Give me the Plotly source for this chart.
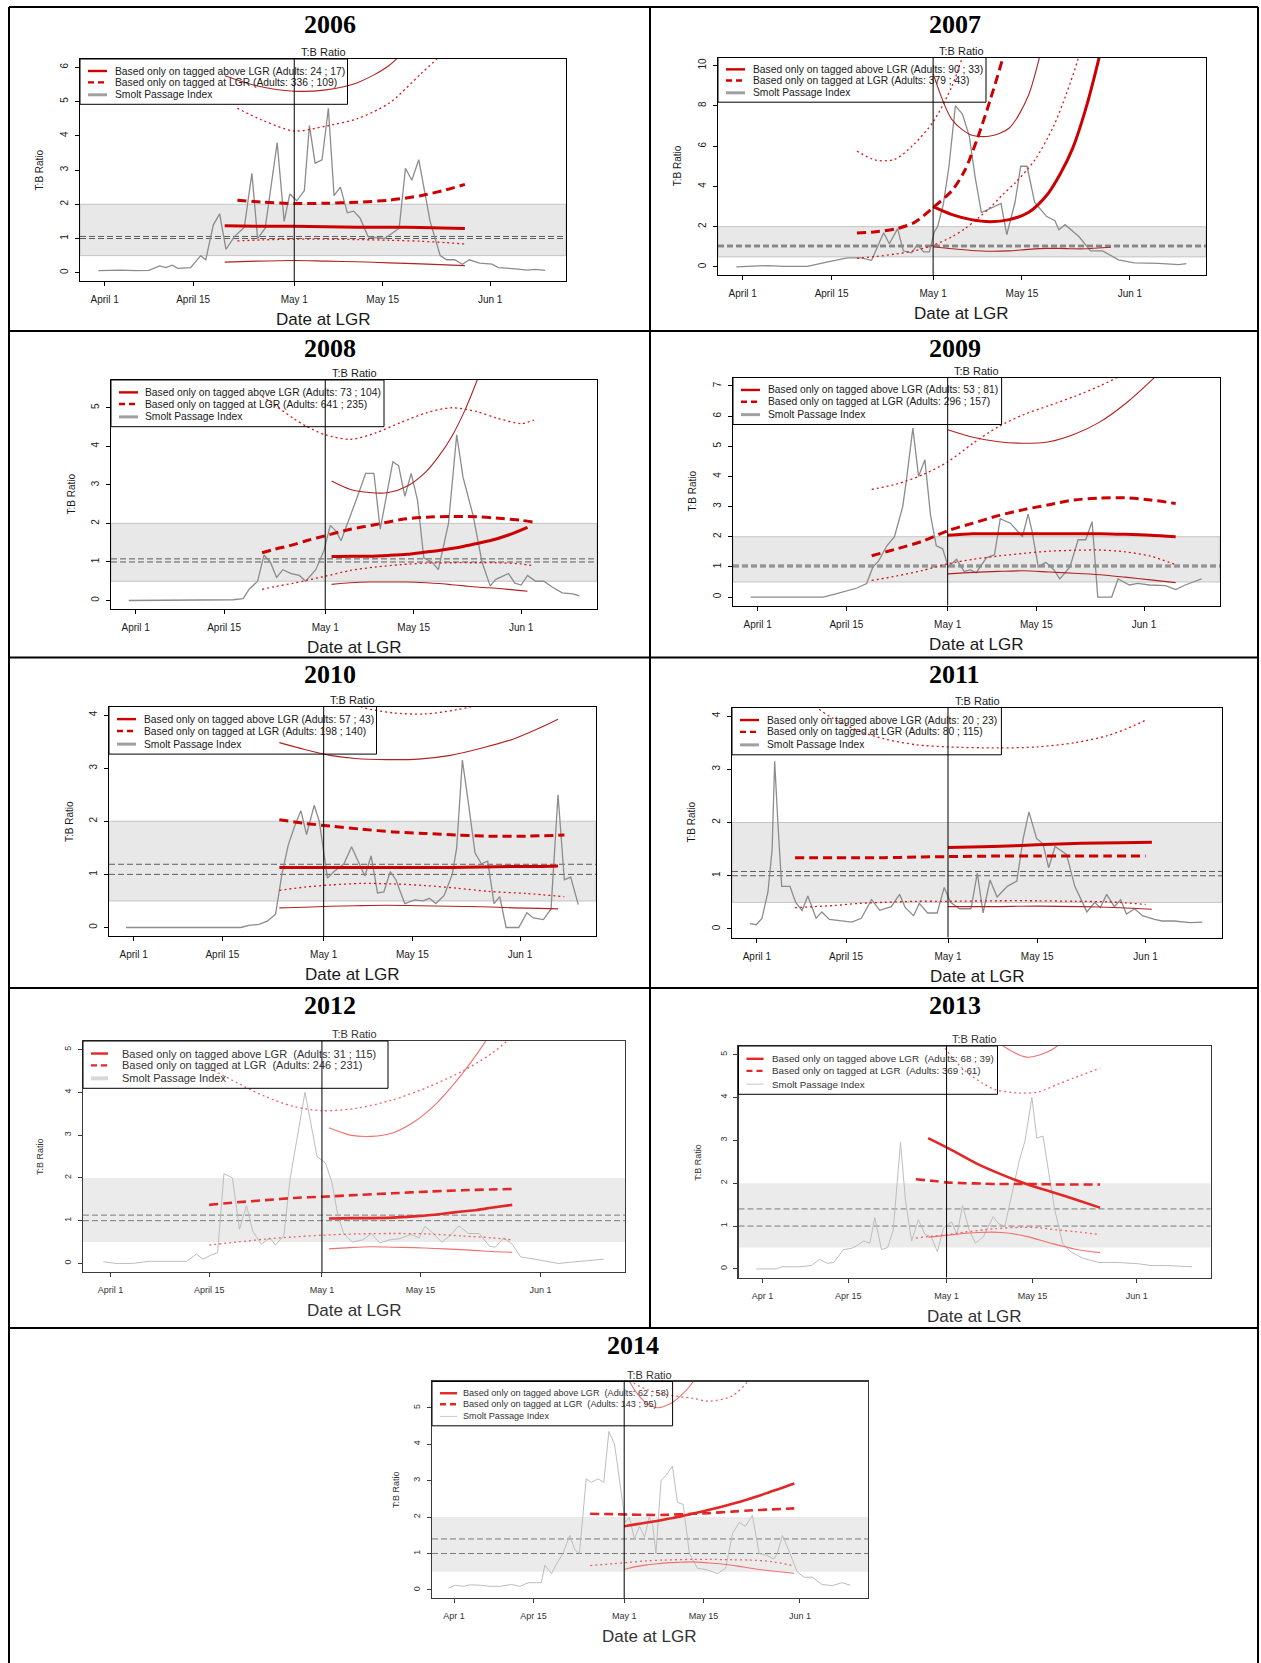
import plotly.graph_objects as go

W, H = 1261, 1663

# ============================== DATA ==============================
YEARS = [2006, 2007, 2008, 2009, 2010, 2011, 2012, 2013, 2014]
TICK_DAYS = [0, 14, 30, 44, 61]                      # days after April 1
TICK_TEXT_LONG = ["April 1", "April 15", "May 1", "May 15", "Jun 1"]
TICK_TEXT_SHORT = ["Apr 1", "Apr 15", "May 1", "May 15", "Jun 1"]
MAY1_DAY = 30
XLIM = (-1.05, 70.15)
BAND_LOW, BAND_HIGH = 0.5, 2.0
REF_LOW = 1.0
REF_HIGH = [1.06, 1.08, 1.08, 1.06, 1.19, 1.08, 1.13, 1.40, 1.40]
YMAX = [6, 10, 5.5, 7, 4, 4, 5, 5, 5.5]
YTICK_STEP = [1, 2, 1, 1, 1, 1, 1, 1, 1]
YTICK_MAX = [6, 10, 5, 7, 4, 4, 5, 5, 5]
ADULTS_ABOVE = ["24 ; 17", "90 ; 33", "73 ; 104", "53 ; 81", "57 ; 43", "20 ; 23", "31 ; 115", "68 ; 39", "62 ; 58"]
ADULTS_AT = ["336 ; 109", "379 ; 43", "641 ; 235", "296 ; 157", "198 ; 140", "80 ; 115", "246 ; 231", "369 ; 61", "143 ; 95"]

# ---- 2006
SMOLT_2006 = [(-1, 0.06), (2.5, 0.08), (5, 0.06), (7, 0.07), (8.7, 0.2), (9.7, 0.15), (10.7, 0.22), (11.6, 0.13),
              (13.6, 0.15), (15.2, 0.5), (16, 0.38), (17.2, 1.4), (18.2, 1.72), (19.2, 0.68), (20.5, 1.05), (22.1, 1.33),
              (23.3, 2.9), (23.7, 2.0), (24.2, 1.0), (25.4, 1.3), (27.3, 3.8), (28.4, 1.5), (29.3, 2.3), (30.4, 2.1),
              (31.6, 2.4), (32.4, 4.3), (33.3, 3.2), (34.4, 3.3), (35.4, 4.8), (36.3, 2.25), (37.3, 2.5), (38.4, 1.75),
              (39.4, 1.8), (40.4, 1.6), (41.7, 1.05), (44.3, 1.0), (46.6, 1.3), (47.6, 3.05), (48.6, 2.7), (49.7, 3.3),
              (51.5, 1.5), (53.1, 0.5), (54.1, 0.38), (55.4, 0.38), (56.6, 0.25), (57.7, 0.38), (59.3, 0.28),
              (61.3, 0.25), (62.3, 0.15), (64.6, 0.12), (66.9, 0.08), (68.2, 0.1), (69.7, 0.07)]
ABOVE_DAY_2006 = [19, 24, 30, 35, 40, 45, 50, 57]
ABOVE_2006 = [1.37, 1.36, 1.36, 1.34, 1.33, 1.33, 1.32, 1.29]
ABOVE_LO_2006 = [0.31, 0.34, 0.36, 0.34, 0.32, 0.29, 0.26, 0.21]
ABOVE_HI_2006 = [5.75, 5.46, 5.3, 5.34, 5.55, 6.05, 7.0, 8.6]
AT_DAY_2006 = [21, 25, 30, 35, 40, 45, 50, 54, 57]
AT_2006 = [2.12, 2.06, 2.02, 2.03, 2.06, 2.12, 2.25, 2.42, 2.58]
AT_LO_2006 = [0.93, 0.96, 0.98, 0.98, 0.97, 0.95, 0.92, 0.88, 0.84]
AT_HI_2006 = [4.8, 4.45, 4.14, 4.28, 4.5, 4.95, 5.8, 6.5, 7.1]

# ---- 2007
SMOLT_2007 = [(-1, 0.0), (2.7, 0.03), (4, 0.07), (6.5, 0.03), (10.2, 0.03), (13.4, 0.25), (16.5, 0.45), (18.7, 0.45),
              (20.3, 0.33), (22.2, 1.7), (23.1, 1.15), (24.4, 1.9), (25.3, 0.8), (26.6, 0.7), (27.5, 1.1), (28.5, 0.75),
              (29.4, 0.75), (30.2, 1.75), (30.7, 2.0), (31.6, 3.1), (32.5, 5.0), (33.5, 8.0), (34.6, 7.6), (35.7, 6.5),
              (36.6, 4.5), (37.6, 2.7), (39.1, 2.9), (40.7, 3.15), (41.6, 1.6), (42.9, 3.2), (43.8, 5.0), (44.8, 5.0),
              (46, 3.2), (47.9, 2.5), (49.2, 2.3), (49.8, 1.85), (50.8, 2.1), (53, 1.5), (54.8, 0.8), (56.7, 0.8),
              (59.2, 0.35), (61.7, 0.2), (65.5, 0.18), (68.7, 0.12), (69.9, 0.17)]
ABOVE_DAY_2007 = [30, 33, 36, 39, 42, 45, 48, 50, 52, 54, 56, 58]
ABOVE_2007 = [3.0, 2.6, 2.35, 2.25, 2.35, 2.7, 3.6, 4.6, 5.9, 7.8, 10.2, 13.0]
ABOVE_LO_2007 = [1.0, 0.9, 0.82, 0.78, 0.8, 0.87, 0.92, 0.92, 0.9, 0.9, 0.94, 0.98]
ABOVE_HI_2007 = [9.6, 7.3, 6.55, 6.5, 6.9, 8.5, 12.0, 14.5, 17.0, 20.0, 23.0, 26.0]
AT_DAY_2007 = [18, 21, 24, 27, 30, 33, 35, 37, 39, 41, 43, 46, 49, 51, 53, 57]
AT_2007 = [1.68, 1.75, 1.88, 2.2, 2.95, 3.8, 4.8, 6.4, 8.3, 10.4, 13.0, 17.0, 22.0, 26.0, 30.0, 40.0]
AT_LO_2007 = [0.43, 0.52, 0.64, 0.8, 1.08, 1.5, 1.9, 2.4, 2.95, 3.6, 4.2, 5.3, 7.0, 8.6, 10.5, 16.0]
AT_HI_2007 = [5.75, 5.3, 5.35, 6.1, 7.2, 9.0, 10.8, 13.0, 16.0, 20.0, 25.0, 31.0, 40.0, 50.0, 60.0, 80.0]

# ---- 2008
SMOLT_2008 = [(-1.1, 0), (15.4, 0.02), (17, 0.05), (18, 0.3), (19.3, 0.5), (20.3, 1.18), (21.3, 1.0), (22.3, 0.6),
              (23.3, 0.8), (24.6, 0.7), (25.9, 0.65), (26.9, 0.5), (28.5, 0.8), (29.8, 1.3), (30.8, 1.95), (31.7, 1.8),
              (32.5, 1.55), (33.8, 2.1), (35.1, 2.7), (36.4, 3.3), (37.7, 3.3), (38.7, 1.85), (40.7, 3.6), (41.6, 3.5),
              (42.6, 2.7), (43.6, 3.3), (44.6, 2.6), (45.6, 1.1), (46.9, 1.0), (47.9, 0.8), (49.5, 2.0), (50.8, 4.3),
              (51.8, 3.2), (53.4, 2.2), (54.8, 1.0), (56.1, 0.38), (57, 0.55), (59, 0.7), (60, 0.45), (61, 0.4),
              (62, 0.65), (63.3, 0.5), (64.6, 0.5), (65.9, 0.35), (67.5, 0.2), (69.2, 0.17), (70.2, 0.12)]
ABOVE_DAY_2008 = [31, 34, 37, 40, 43, 46, 48, 50, 52, 54, 56, 59, 62]
ABOVE_2008 = [1.14, 1.15, 1.15, 1.17, 1.2, 1.26, 1.3, 1.35, 1.41, 1.48, 1.55, 1.7, 1.9]
ABOVE_LO_2008 = [0.42, 0.46, 0.48, 0.48, 0.48, 0.46, 0.44, 0.41, 0.38, 0.35, 0.33, 0.29, 0.24]
ABOVE_HI_2008 = [3.1, 2.88, 2.8, 2.8, 2.97, 3.35, 3.75, 4.25, 4.9, 5.7, 6.6, 8.0, 9.6]
AT_DAY_2008 = [20, 22, 25, 27, 30, 34, 38, 42, 46, 50, 54, 57, 61, 63]
AT_2008 = [1.24, 1.33, 1.45, 1.55, 1.68, 1.85, 1.97, 2.1, 2.16, 2.18, 2.17, 2.14, 2.08, 2.03]
AT_LO_2008 = [0.29, 0.36, 0.45, 0.52, 0.63, 0.78, 0.87, 0.93, 0.97, 0.98, 0.98, 0.98, 0.95, 0.9]
AT_HI_2008 = [5.3, 5.07, 4.72, 4.52, 4.3, 4.18, 4.35, 4.62, 4.87, 5.0, 4.9, 4.74, 4.59, 4.68]

# ---- 2009
SMOLT_2009 = [(-1.1, 0), (10.3, 0), (12.2, 0.1), (14.1, 0.2), (15.7, 0.3), (17.2, 0.45), (18.2, 1.0), (19.1, 1.2),
              (20.4, 1.7), (21.6, 2.0), (22.9, 3.0), (23.5, 3.9), (24.5, 5.6), (25.4, 4.0), (26.4, 4.55), (27.3, 2.7),
              (28.2, 1.7), (29.2, 1.6), (30.1, 1.0), (31.4, 1.25), (32.6, 0.85), (33.6, 0.9), (34.5, 0.8), (36.1, 1.3),
              (37.4, 1.4), (38.3, 2.6), (39.9, 2.45), (41.8, 2.0), (42.7, 2.75), (43.3, 2.2), (44.3, 1.0), (45.5, 1.15),
              (46.8, 0.9), (47.7, 0.6), (49.3, 1.0), (50.6, 1.9), (51.8, 1.9), (52.8, 2.5), (53.7, 0.0), (55.9, 0.0),
              (56.9, 0.6), (58.7, 0.4), (60, 0.45), (61.9, 0.4), (64.4, 0.38), (66, 0.25), (67.5, 0.4), (70.1, 0.6)]
ABOVE_DAY_2009 = [30, 34, 38, 42, 46, 50, 54, 58, 62, 66]
ABOVE_2009 = [2.05, 2.1, 2.1, 2.1, 2.1, 2.1, 2.1, 2.08, 2.05, 2.0]
ABOVE_LO_2009 = [0.77, 0.82, 0.85, 0.87, 0.83, 0.79, 0.74, 0.66, 0.57, 0.48]
ABOVE_HI_2009 = [5.55, 5.3, 5.15, 5.1, 5.15, 5.4, 5.8, 6.4, 7.15, 8.0]
AT_DAY_2009 = [18, 22, 26, 30, 34, 38, 42, 46, 50, 54, 58, 62, 66]
AT_2009 = [1.37, 1.6, 1.85, 2.2, 2.45, 2.7, 2.9, 3.06, 3.22, 3.28, 3.29, 3.22, 3.1]
AT_LO_2009 = [0.55, 0.7, 0.88, 1.1, 1.25, 1.36, 1.45, 1.52, 1.55, 1.56, 1.5, 1.36, 1.07]
AT_HI_2009 = [3.57, 3.75, 4.05, 4.48, 5.1, 5.65, 6.05, 6.35, 6.65, 7.0, 7.4, 7.8, 8.2]

# ---- 2010
SMOLT_2010 = [(-1.2, 0), (16.9, 0), (18.2, 0.04), (19.8, 0.06), (21.1, 0.12), (22.4, 0.25), (23.4, 1.0), (24.4, 1.55),
              (25.4, 1.9), (26.4, 2.2), (27.3, 1.75), (28.5, 2.3), (29.3, 2.0), (30.6, 0.93), (31.6, 1.05), (33.2, 1.2),
              (34.4, 1.52), (35.2, 1.3), (36.5, 0.97), (37.5, 1.35), (38.5, 0.65), (39.5, 0.67), (40.5, 1.05),
              (41.4, 0.9), (42.8, 0.45), (44.4, 0.52), (45.7, 0.5), (46.7, 0.55), (47.7, 0.45), (49, 0.6), (50.3, 1.0),
              (51, 1.5), (51.9, 3.15), (52.9, 2.3), (53.9, 1.4), (54.9, 1.2), (55.9, 1.25), (56.9, 0.45), (57.8, 0.58),
              (58.8, 0.0), (60.8, 0.0), (62.1, 0.28), (63.1, 0.18), (64.7, 0.15), (65.9, 0.35), (67, 2.5), (68, 0.9),
              (69, 0.95), (70.2, 0.43)]
ABOVE_DAY_2010 = [23, 27, 31, 35, 40, 45, 50, 55, 60, 64, 67]
ABOVE_2010 = [1.13, 1.13, 1.13, 1.13, 1.13, 1.13, 1.13, 1.14, 1.15, 1.15, 1.16]
ABOVE_LO_2010 = [0.37, 0.38, 0.4, 0.41, 0.42, 0.41, 0.4, 0.39, 0.37, 0.36, 0.35]
ABOVE_HI_2010 = [3.48, 3.35, 3.24, 3.18, 3.16, 3.17, 3.24, 3.38, 3.55, 3.75, 3.92]
AT_DAY_2010 = [23, 27, 31, 36, 41, 46, 51, 56, 62, 68]
AT_2010 = [2.03, 1.96, 1.91, 1.85, 1.8, 1.77, 1.74, 1.72, 1.72, 1.74]
AT_LO_2010 = [0.7, 0.76, 0.8, 0.83, 0.82, 0.79, 0.74, 0.68, 0.64, 0.58]
AT_HI_2010 = [5.5, 4.9, 4.45, 4.15, 4.04, 4.02, 4.1, 4.25, 4.7, 5.2]

# ---- 2011
SMOLT_2011 = [(-1.1, 0.1), (-0.1, 0.08), (0.8, 0.2), (1.75, 0.7), (2.4, 1.5), (2.8, 3.15), (3.3, 2.0), (3.9, 0.8),
              (5.2, 0.8), (6.1, 0.5), (7.1, 0.35), (8, 0.62), (9.3, 0.2), (10.2, 0.32), (11.4, 0.18), (13, 0.16),
              (14.9, 0.13), (16.4, 0.2), (18, 0.55), (19.3, 0.35), (21.1, 0.42), (22.4, 0.65), (23.3, 0.4), (24.6, 0.25),
              (25.5, 0.48), (26.8, 0.3), (28.3, 0.3), (29.4, 0.78), (30.4, 0.5), (31.8, 0.38), (33.6, 0.38), (34.6, 1.05),
              (35.5, 0.3), (36.6, 0.92), (37.7, 0.6), (39.3, 0.8), (40.8, 0.9), (41.8, 1.7), (42.7, 2.2), (43.9, 1.7),
              (44.9, 1.6), (45.8, 1.15), (46.8, 1.55), (48.6, 1.4), (49.9, 0.8), (51.1, 0.5), (51.8, 0.32), (53, 0.5),
              (53.9, 0.4), (54.9, 0.65), (56.1, 0.42), (57.1, 0.55), (58, 0.28), (59.3, 0.38), (60.5, 0.25),
              (62.4, 0.18), (63.6, 0.15), (65.5, 0.15), (68, 0.12), (69.9, 0.13)]
ABOVE_DAY_2011 = [30, 37, 44, 51, 57, 62]
ABOVE_2011 = [1.53, 1.55, 1.58, 1.61, 1.62, 1.63]
ABOVE_LO_2011 = [0.42, 0.42, 0.43, 0.42, 0.4, 0.37]
ABOVE_HI_2011 = None          # entirely above the plotted range
AT_DAY_2011 = [6, 9, 12, 16, 20, 25, 30, 38, 44, 50, 55, 58, 61]
AT_2011 = [1.34, 1.34, 1.34, 1.34, 1.34, 1.35, 1.36, 1.37, 1.37, 1.37, 1.37, 1.37, 1.37]
AT_LO_2011 = [0.4, 0.42, 0.44, 0.48, 0.5, 0.52, 0.52, 0.53, 0.53, 0.52, 0.51, 0.49, 0.46]
AT_HI_2011 = [4.6, 4.2, 3.95, 3.72, 3.57, 3.46, 3.42, 3.4, 3.42, 3.5, 3.63, 3.76, 3.92]

# ---- 2012
SMOLT_2012 = [(-1, 0.04), (0.8, 0.0), (3.1, 0.0), (5.5, 0.05), (10.8, 0.05), (12.2, 0.22), (13.1, 0.1), (14.3, 0.2),
              (15.2, 0.25), (16.1, 2.1), (17.3, 2.0), (18.3, 0.8), (19.3, 1.35), (20.2, 0.75), (21.4, 0.45), (22.6, 0.6),
              (23.4, 0.43), (24.6, 0.65), (25.5, 2.0), (26.7, 3.2), (27.6, 4.0), (28.4, 3.3), (29.3, 2.5), (30.5, 2.35),
              (31.4, 1.9), (32.3, 1.1), (33.1, 0.7), (34.3, 0.5), (35.8, 0.55), (37, 0.7), (38.2, 0.48), (39.6, 0.55),
              (41.1, 0.58), (42.6, 0.68), (43.8, 0.6), (44.6, 0.87), (45.8, 0.7), (47, 0.5), (48.2, 0.65), (49.4, 0.88),
              (50.8, 0.7), (52.3, 0.7), (53.8, 0.4), (54.6, 0.38), (55.8, 0.6), (57, 0.45), (58.2, 0.15), (60.2, 0.1),
              (63.5, 0.0), (66.7, 0.05), (70, 0.1)]
ABOVE_DAY_2012 = [31, 34, 37, 40, 43, 46, 49, 52, 54, 57]
ABOVE_2012 = [1.05, 1.06, 1.06, 1.07, 1.1, 1.14, 1.2, 1.25, 1.3, 1.37]
ABOVE_LO_2012 = [0.34, 0.37, 0.39, 0.38, 0.37, 0.35, 0.33, 0.3, 0.28, 0.26]
ABOVE_HI_2012 = [3.17, 3.0, 2.97, 3.05, 3.3, 3.7, 4.25, 4.9, 5.4, 6.3]
AT_DAY_2012 = [14, 18, 22, 26, 30, 35, 40, 45, 50, 54, 57]
AT_2012 = [1.37, 1.43, 1.48, 1.53, 1.56, 1.6, 1.64, 1.68, 1.71, 1.73, 1.74]
AT_LO_2012 = [0.43, 0.5, 0.57, 0.62, 0.66, 0.69, 0.7, 0.69, 0.64, 0.6, 0.55]
AT_HI_2012 = [4.57, 4.22, 3.9, 3.67, 3.57, 3.63, 3.82, 4.12, 4.5, 4.9, 5.3]

# ---- 2013
SMOLT_2013 = [(-1, 0.0), (2.2, 0.0), (3.2, 0.05), (6.1, 0.05), (8, 0.08), (9.3, 0.22), (10.6, 0.13), (11.6, 0.15),
              (13.2, 0.45), (14.5, 0.48), (15.5, 0.55), (16.5, 0.65), (17.5, 0.6), (18.3, 1.2), (19.4, 0.45), (20.4, 0.5),
              (21.3, 0.9), (22, 2.0), (22.5, 2.95), (23.3, 1.6), (24.3, 0.65), (25.4, 1.15), (26.5, 0.8), (27.5, 0.75),
              (28.5, 0.4), (29.5, 0.95), (30.8, 1.1), (31.7, 0.8), (32.6, 1.48), (33.7, 0.9), (34.7, 0.6), (36, 0.75),
              (37.6, 1.22), (38.5, 1.05), (39.5, 1.0), (40.8, 1.85), (41.8, 2.5), (42.8, 3.0), (43.9, 4.0), (44.7, 3.05),
              (45.7, 3.1), (46.7, 2.2), (47.6, 1.4), (48.9, 0.6), (50.2, 0.4), (52.2, 0.25), (54.8, 0.15), (58, 0.15),
              (61.3, 0.12), (63.2, 0.08), (65.8, 0.08), (70, 0.05)]
ABOVE_DAY_2013 = [27, 31, 35, 39, 43, 47, 51, 55]
ABOVE_2013 = [3.05, 2.76, 2.45, 2.2, 1.98, 1.8, 1.62, 1.43]
ABOVE_LO_2013 = [0.74, 0.8, 0.85, 0.85, 0.76, 0.6, 0.46, 0.38]
ABOVE_HI_2013 = [7.5, 6.4, 5.7, 5.22, 4.94, 5.1, 5.6, 6.5]
AT_DAY_2013 = [25, 28, 30, 33, 36, 38, 42, 45, 48, 51, 55]
AT_2013 = [2.09, 2.05, 2.02, 2.0, 1.99, 1.98, 1.98, 1.98, 1.97, 1.97, 1.97]
AT_LO_2013 = [0.72, 0.77, 0.8, 0.86, 0.91, 0.94, 0.97, 0.96, 0.91, 0.87, 0.8]
AT_HI_2013 = [6.5, 5.6, 5.1, 4.62, 4.32, 4.18, 4.1, 4.13, 4.3, 4.47, 4.68]

# ---- 2014
SMOLT_2014 = [(-1, 0.05), (0.2, 0.13), (1.6, 0.1), (2.8, 0.14), (4.6, 0.13), (6.3, 0.1), (8.1, 0.1), (10.1, 0.15),
              (11.6, 0.1), (13.1, 0.2), (14.5, 0.2), (15.4, 0.2), (16, 0.68), (17.2, 0.45), (18, 0.7), (19.2, 1.0),
              (20.4, 1.5), (21.3, 1.1), (22.1, 1.0), (22.7, 2.0), (23.3, 3.05), (24.2, 2.95), (25.4, 3.05), (26.4, 2.95),
              (27.3, 4.35), (28.3, 4.0), (29.2, 3.0), (30.2, 1.85), (30.9, 2.0), (31.8, 1.4), (32.7, 1.75), (33.6, 1.45),
              (34.4, 2.0), (35, 1.8), (35.6, 1.0), (36.5, 3.0), (37.4, 3.15), (38.5, 3.4), (39.4, 2.4), (40.4, 2.35),
              (41.5, 1.0), (42.9, 0.6), (44.7, 0.55), (46.5, 0.45), (47.9, 0.6), (49.1, 1.55), (50.3, 1.85),
              (51.4, 1.75), (52.6, 2.05), (53.8, 1.0), (55.2, 0.95), (56.4, 0.85), (57, 1.0), (57.9, 1.5), (59, 1.1),
              (60.5, 0.5), (61.7, 0.35), (63.2, 0.35), (64.9, 0.15), (66.7, 0.12), (68.4, 0.2), (69.9, 0.13)]
ABOVE_DAY_2014 = [30, 32, 34, 36, 38, 40, 42, 45, 48, 51, 55, 60]
ABOVE_2014 = [1.75, 1.8, 1.85, 1.9, 1.96, 2.02, 2.09, 2.2, 2.32, 2.45, 2.65, 2.92]
ABOVE_LO_2014 = [0.56, 0.64, 0.69, 0.72, 0.75, 0.76, 0.77, 0.74, 0.7, 0.63, 0.54, 0.46]
ABOVE_HI_2014 = [6.0, 5.45, 5.12, 5.0, 5.1, 5.33, 5.68, 6.5, 7.5, 8.5, 10.0, 12.0]
AT_DAY_2014 = [24, 28, 31, 34, 37, 42, 45, 49, 52, 56, 60]
AT_2014 = [2.09, 2.08, 2.07, 2.06, 2.06, 2.09, 2.11, 2.15, 2.18, 2.21, 2.24]
AT_LO_2014 = [0.67, 0.72, 0.76, 0.8, 0.82, 0.84, 0.84, 0.83, 0.82, 0.78, 0.66]
AT_HI_2014 = [7.0, 6.3, 5.75, 5.5, 5.37, 5.26, 5.18, 5.32, 5.75, 6.6, 7.6]

SERIES = {
    2006: (SMOLT_2006, ABOVE_DAY_2006, ABOVE_2006, ABOVE_LO_2006, ABOVE_HI_2006, AT_DAY_2006, AT_2006, AT_LO_2006, AT_HI_2006),
    2007: (SMOLT_2007, ABOVE_DAY_2007, ABOVE_2007, ABOVE_LO_2007, ABOVE_HI_2007, AT_DAY_2007, AT_2007, AT_LO_2007, AT_HI_2007),
    2008: (SMOLT_2008, ABOVE_DAY_2008, ABOVE_2008, ABOVE_LO_2008, ABOVE_HI_2008, AT_DAY_2008, AT_2008, AT_LO_2008, AT_HI_2008),
    2009: (SMOLT_2009, ABOVE_DAY_2009, ABOVE_2009, ABOVE_LO_2009, ABOVE_HI_2009, AT_DAY_2009, AT_2009, AT_LO_2009, AT_HI_2009),
    2010: (SMOLT_2010, ABOVE_DAY_2010, ABOVE_2010, ABOVE_LO_2010, ABOVE_HI_2010, AT_DAY_2010, AT_2010, AT_LO_2010, AT_HI_2010),
    2011: (SMOLT_2011, ABOVE_DAY_2011, ABOVE_2011, ABOVE_LO_2011, ABOVE_HI_2011, AT_DAY_2011, AT_2011, AT_LO_2011, AT_HI_2011),
    2012: (SMOLT_2012, ABOVE_DAY_2012, ABOVE_2012, ABOVE_LO_2012, ABOVE_HI_2012, AT_DAY_2012, AT_2012, AT_LO_2012, AT_HI_2012),
    2013: (SMOLT_2013, ABOVE_DAY_2013, ABOVE_2013, ABOVE_LO_2013, ABOVE_HI_2013, AT_DAY_2013, AT_2013, AT_LO_2013, AT_HI_2013),
    2014: (SMOLT_2014, ABOVE_DAY_2014, ABOVE_2014, ABOVE_LO_2014, ABOVE_HI_2014, AT_DAY_2014, AT_2014, AT_LO_2014, AT_HI_2014),
}

# ============================== PAGE GEOMETRY (pixels) ==============================
BOXES = [(80, 566, 59, 281), (718, 1206, 57.5, 275), (111, 597, 380, 609), (733, 1220, 377.5, 605.5),
         (109, 596, 706.5, 936), (732, 1222, 707.5, 937.5), (83, 625, 1041, 1272), (738.5, 1210.5, 1046, 1277.5),
         (432, 868, 1381.5, 1598)]
LEGEND_SIZE = [(267.5, 45.3), (268, 44.7), (273, 46.7), (268.6, 47), (267.5, 47.6), (269.4, 47.3),
               (305, 47.3), (259, 48.3), (240.6, 44.3)]
LEGEND_TEXT_DX = [34, 33.7, 33.4, 33.7, 33.9, 33.7, 37.8, 32, 29.6]
LEGEND_FONT = [10.3, 10.3, 10.3, 10.3, 10.3, 10.3, 11.0, 9.8, 9.1]
TITLE_POS = [(330, 24), (954.5, 24), (330, 348), (954.5, 348), (330, 674.3), (954.5, 674.3),
             (330, 1005.7), (954.5, 1005.7), (633, 1345.7)]
YLAB_DX = [40.6, 41, 40, 41, 39.3, 41, 43.5, 40.6, 36.7]
GROUP = ["v", "v", "v", "v", "v", "v", "l", "l", "l"]

STYLE = {
    "v": dict(est="#cc0000", ci="#b22222", dot="#dd1616", smolt="#8c8c8c", smolt_w=1.3, smolt_leg="#a0a0a0",
              smolt_leg_w=3, band="#e8e8e8", band_edge="#c4c4c4", ref="#5c5c5c", frame="black", frame_w=1,
              text="#1a1a1a", tick=10, est_w=3.0),
    "l": dict(est="#e32626", ci="#f07070", dot="#f06464", smolt="#bdbdbd", smolt_w=1.0, smolt_leg="#d0d0d0",
              smolt_leg_w=1.2, band="#ebebeb", band_edge="rgba(0,0,0,0)", ref="#7a7a7a", frame="#3a3a3a", frame_w=1.4,
              text="#333333", tick=9, est_w=2.6),
}
SANS = "Liberation Sans, Arial, sans-serif"
SERIF = "Liberation Serif, Times New Roman, serif"


def fx(p):
    return p / W


def fy(p):
    return 1 - p / H


fig = go.Figure()
shapes, annotations = [], []
layout_axes = {}

for i, yr in enumerate(YEARS):
    n = i + 1
    xa = "x" if n == 1 else f"x{n}"
    ya = "y" if n == 1 else f"y{n}"
    L, R, T, B = BOXES[i]
    st = STYLE[GROUP[i]]
    smolt, a_day, a_est, a_lo, a_hi, t_day, t_est, t_lo, t_hi = SERIES[yr]

    # ---- axes
    xr = XLIM[1] - XLIM[0]
    yr_lo, yr_hi = -0.04 * YMAX[i], 1.04 * YMAX[i]
    ticktext = TICK_TEXT_LONG if yr <= 2012 else TICK_TEXT_SHORT
    layout_axes["xaxis" if n == 1 else f"xaxis{n}"] = dict(
        domain=[fx(L), fx(R)], range=[XLIM[0] - 0.04 * xr, XLIM[1] + 0.04 * xr], anchor=ya,
        tickmode="array", tickvals=TICK_DAYS, ticktext=ticktext, ticks="outside", ticklen=4,
        tickwidth=1, tickcolor=st["frame"], showline=True, linecolor=st["frame"], linewidth=st["frame_w"],
        mirror=True, showgrid=False, zeroline=False, ticklabelstandoff=5, fixedrange=True,
        tickfont=dict(family=SANS, size=st["tick"], color=st["text"]))
    ytv = []
    v = 0
    while v <= YTICK_MAX[i] + 1e-9:
        ytv.append(v)
        v += YTICK_STEP[i]
    layout_axes["yaxis" if n == 1 else f"yaxis{n}"] = dict(
        domain=[fy(B), fy(T)], range=[yr_lo, yr_hi], anchor=xa,
        tickmode="array", tickvals=ytv, ticktext=[str(t) for t in ytv], ticks="outside", ticklen=4,
        tickwidth=1, tickcolor=st["frame"], tickangle=-90, showline=True, linecolor=st["frame"],
        linewidth=st["frame_w"], mirror=True, showgrid=False, zeroline=False, ticklabelstandoff=3, fixedrange=True,
        tickfont=dict(family=SANS, size=st["tick"], color=st["text"]))

    # ---- background band and reference lines
    shapes.append(dict(type="rect", xref=f"{xa} domain", yref=ya, x0=0, x1=1, y0=BAND_LOW, y1=BAND_HIGH,
                       fillcolor=st["band"], line=dict(color=st["band_edge"], width=1), layer="below"))
    for ref in (REF_LOW, REF_HIGH[i]):
        shapes.append(dict(type="line", xref=f"{xa} domain", yref=ya, x0=0, x1=1, y0=ref, y1=ref,
                           line=dict(color=st["ref"], width=1.0, dash="6px,3px"), layer="below"))
    shapes.append(dict(type="line", xref=xa, yref=f"{ya} domain", x0=MAY1_DAY, x1=MAY1_DAY, y0=0, y1=1,
                       line=dict(color="black", width=1), layer="above"))

    # ---- traces
    def add(xs, ys, color, width, dash=None, shape="spline"):
        fig.add_trace(go.Scatter(x=xs, y=ys, mode="lines", xaxis=xa, yaxis=ya, showlegend=False,
                                 hoverinfo="skip", line=dict(color=color, width=width, dash=dash,
                                                             shape=shape, smoothing=0.8)))

    add([p[0] for p in smolt], [p[1] for p in smolt], st["smolt"], st["smolt_w"], shape="linear")
    add(a_day, a_lo, st["ci"], 1.1)
    if a_hi is not None:
        add(a_day, a_hi, st["ci"], 1.1)
    add(t_day, t_lo, st["dot"], 1.3, dash="2px,3px")
    add(t_day, t_hi, st["dot"], 1.3, dash="2px,3px")
    add(t_day, t_est, st["est"], st["est_w"], dash="9px,5px")
    add(a_day, a_est, st["est"], st["est_w"])

    # ---- legend (drawn as in R: transparent box in the top-left corner)
    lw, lh = LEGEND_SIZE[i]
    shapes.append(dict(type="rect", xref="paper", yref="paper", x0=fx(L), x1=fx(L + lw), y0=fy(T), y1=fy(T + lh),
                       line=dict(color="black", width=1), fillcolor="rgba(0,0,0,0)", layer="above"))
    rows = [T + lh * 0.265, T + lh * 0.515, T + lh * 0.79]
    samp_x1 = L + (27 if GROUP[i] == "v" else 25)
    shapes.append(dict(type="line", xref="paper", yref="paper", x0=fx(L + 8), x1=fx(samp_x1), y0=fy(rows[0]),
                       y1=fy(rows[0]), line=dict(color=st["est"], width=2.4), layer="above"))
    shapes.append(dict(type="line", xref="paper", yref="paper", x0=fx(L + 8), x1=fx(samp_x1), y0=fy(rows[1]),
                       y1=fy(rows[1]), line=dict(color=st["est"], width=2.4, dash="6px,4px"), layer="above"))
    leg3_w = 4 if yr == 2012 else st["smolt_leg_w"]
    leg3_c = "#d8d8d8" if yr == 2012 else st["smolt_leg"]
    shapes.append(dict(type="line", xref="paper", yref="paper", x0=fx(L + 8), x1=fx(samp_x1), y0=fy(rows[2]),
                       y1=fy(rows[2]), line=dict(color=leg3_c, width=leg3_w), layer="above"))
    sep = " \u00a0" if GROUP[i] == "l" else " "
    labels = [f"Based only on tagged above LGR{sep}(Adults: {ADULTS_ABOVE[i]})",
              f"Based only on tagged at LGR{sep}(Adults: {ADULTS_AT[i]})",
              "Smolt Passage Index"]
    for ry, lab in zip(rows, labels):
        annotations.append(dict(xref="paper", yref="paper", x=fx(L + LEGEND_TEXT_DX[i]), y=fy(ry), text=lab,
                                showarrow=False, xanchor="left", yanchor="middle", borderpad=0,
                                font=dict(family=SANS, size=LEGEND_FONT[i], color=st["text"])))

    # ---- titles
    cx = (L + R) / 2
    annotations.append(dict(xref="paper", yref="paper", x=fx(TITLE_POS[i][0]), y=fy(TITLE_POS[i][1]),
                            text=f"<b>{yr}</b>", showarrow=False, xanchor="center", yanchor="middle",
                            font=dict(family=SERIF, size=26, color="black")))
    annotations.append(dict(xref="paper", yref="paper", x=fx(cx), y=fy(T - 7), text="T:B Ratio",
                            showarrow=False, xanchor="center", yanchor="middle",
                            font=dict(family=SANS, size=11, color=st["text"])))
    annotations.append(dict(xref="paper", yref="paper", x=fx(cx), y=fy(B + 38.5), text="Date at LGR",
                            showarrow=False, xanchor="center", yanchor="middle",
                            font=dict(family=SANS, size=17, color=st["text"])))
    annotations.append(dict(xref="paper", yref="paper", x=fx(L - YLAB_DX[i]), y=fy((T + B) / 2), text="T:B Ratio",
                            showarrow=False, xanchor="center", yanchor="middle", textangle=-90,
                            font=dict(family=SANS, size=10 if GROUP[i] == "v" else 9, color=st["text"])))

# ---- table grid
TABLE_LEFT, TABLE_RIGHT, TABLE_TOP, TABLE_BOTTOM = 9, 1258, 7, 1663
TABLE_MID = 650
ROW_LINES = [331, 657.5, 988, 1328]
grid = [(TABLE_LEFT, TABLE_TOP, TABLE_RIGHT, TABLE_TOP), (TABLE_LEFT, TABLE_TOP, TABLE_LEFT, TABLE_BOTTOM),
        (TABLE_RIGHT, TABLE_TOP, TABLE_RIGHT, TABLE_BOTTOM), (TABLE_MID, TABLE_TOP, TABLE_MID, ROW_LINES[-1])]
for yl in ROW_LINES:
    grid.append((TABLE_LEFT, yl, TABLE_RIGHT, yl))
for x0, y0, x1, y1 in grid:
    shapes.append(dict(type="line", xref="paper", yref="paper", x0=fx(x0), x1=fx(x1), y0=fy(y0), y1=fy(y1),
                       line=dict(color="black", width=2), layer="above"))

fig.update_layout(width=W, height=H, margin=dict(l=0, r=0, t=0, b=0), showlegend=False,
                  paper_bgcolor="white", plot_bgcolor="white", shapes=shapes, annotations=annotations,
                  **layout_axes)
fig.write_html("out.html", config={"displayModeBar": False, "staticPlot": True},
               post_script="document.body.style.margin='0';document.body.style.overflow='hidden';")
